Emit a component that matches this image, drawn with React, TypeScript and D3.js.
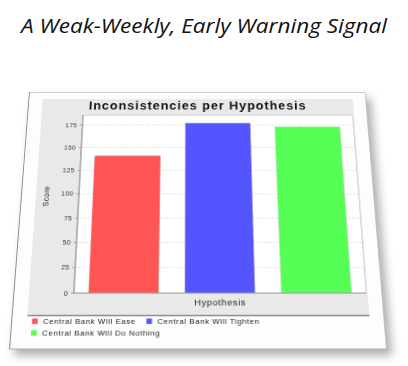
import React from 'react';
import * as d3 from 'd3';

const pageTitle = 'A Weak-Weekly, Early Warning Signal';
const chartTitle = 'Inconsistencies per Hypothesis';
const categories = ['Hypothesis'];
const seriesNames = ['Central Bank Will Ease', 'Central Bank Will Tighten', 'Central Bank Will Do Nothing'];
const seriesValues = [141, 177, 173];
const seriesColors = ['#ff5555', '#5555ff', '#55ff55'];
const yTicks = [0, 25, 50, 75, 100, 125, 150, 175];
const yLabel = 'Score';

// flat card size and its projected corners on the page (TL, TR, BL, BR)
const W = 378;
const H = 290;
const corners: number[][] = [[29, 92], [365.5, 92], [9, 349.5], [387, 349.5]];

function homography(src: number[][], dst: number[][]) {
  const A: number[][] = [];
  const b: number[] = [];
  for (let i = 0; i < 4; i++) {
    const [x, y] = src[i];
    const [X, Y] = dst[i];
    A.push([x, y, 1, 0, 0, 0, -x * X, -y * X]); b.push(X);
    A.push([0, 0, 0, x, y, 1, -x * Y, -y * Y]); b.push(Y);
  }
  const n = 8;
  for (let c = 0; c < n; c++) {
    let p = c;
    for (let r = c + 1; r < n; r++) if (Math.abs(A[r][c]) > Math.abs(A[p][c])) p = r;
    [A[c], A[p]] = [A[p], A[c]];
    [b[c], b[p]] = [b[p], b[c]];
    for (let r = 0; r < n; r++) {
      if (r === c) continue;
      const f = A[r][c] / A[c][c];
      for (let k = c; k < n; k++) A[r][k] -= f * A[c][k];
      b[r] -= f * b[c];
    }
  }
  return b.map((v, i) => v / A[i][i]);
}

const [ha, hb, hc, hd, he, hf, hg, hh] = homography(
  [[0, 0], [W, 0], [0, H], [W, H]],
  corners
);
const matrix = `matrix3d(${ha},${hd},0,${hg},${hb},${he},0,${hh},0,0,1,0,${hc},${hf},0,1)`;

// layout inside the flat card
const panel = { x: 16, y: 9, x2: 363, y2: 255.5 };
const plot = { x: 62, y: 29.2, x2: 361.5, y2: 232 };
const legendRows = [261.3, 273.2];
const legendItems = [
  { x: 21.2, row: 0 },
  { x: 136.9, row: 0 },
  { x: 21.0, row: 1 },
];

const font = "'Liberation Sans', Arial, sans-serif";

function Card() {
  const pw = plot.x2 - plot.x;
  const y = d3.scaleLinear()
    .domain([0, (d3.max(seriesValues) as number) * 1.05])
    .range([plot.y2, plot.y]);
  const x = d3.scaleBand<string>()
    .domain(seriesNames)
    .range([plot.x + 0.05 * pw, plot.x2 - 0.05 * pw])
    .paddingInner(0.2727);
  const catX = d3.scaleBand<string>().domain(categories).range([plot.x, plot.x2]);

  return (
    <svg
      width={W}
      height={H}
      style={{ position: 'absolute', left: 0, top: 0, display: 'block', overflow: 'visible', transformOrigin: '0 0', transform: matrix }}
    >
      <rect x={0.5} y={0.5} width={W - 1} height={H - 1} fill="#fdfdfd" stroke="#c4c4c4" strokeWidth={1} />
      <line x1={0.5} y1={0} x2={0.5} y2={H} stroke="#8c8c8c" strokeWidth={1} />
      <line x1={0} y1={H - 0.5} x2={W} y2={H - 0.5} stroke="#b0b0b0" strokeWidth={1} />
      {/* chart background */}
      <rect x={panel.x} y={panel.y} width={panel.x2 - panel.x} height={panel.y2 - panel.y} fill="#e9e9e9" />
      <line x1={panel.x} x2={panel.x2} y1={panel.y2} y2={panel.y2} stroke="#8a8a8a" strokeWidth={1.6} />
      <text x={(panel.x + panel.x2) / 2} y={21.8} textAnchor="middle" fontFamily={font} fontWeight="bold" fontSize={14} letterSpacing={1.1} fill="#111">
        {chartTitle}
      </text>
      {/* plot */}
      <rect x={plot.x} y={plot.y} width={pw} height={plot.y2 - plot.y} fill="#ffffff" stroke="#bdbdbd" strokeWidth={0.6} />
      {yTicks.map((t) => (
        <line key={'g' + t} x1={plot.x} x2={plot.x2} y1={y(t)} y2={y(t)} stroke="#c8c8c8" strokeWidth={0.8} strokeDasharray="1.5,2" />
      ))}
      {seriesNames.map((s, i) => (
        <rect key={s} x={x(s)} y={y(seriesValues[i])} width={x.bandwidth()} height={y(0) - y(seriesValues[i])} fill={seriesColors[i]} stroke="#c8c8c8" strokeWidth={0.4} />
      ))}
      {/* axes */}
      <line x1={plot.x} x2={plot.x} y1={plot.y} y2={plot.y2} stroke="#7a7a7a" strokeWidth={0.9} />
      <line x1={plot.x} x2={plot.x2} y1={plot.y2} y2={plot.y2} stroke="#9a9a9a" strokeWidth={0.8} />
      {yTicks.map((t) => (
        <g key={'t' + t}>
          <line x1={plot.x - 3} x2={plot.x} y1={y(t)} y2={y(t)} stroke="#888" strokeWidth={0.7} />
          <text x={56} y={y(t)} dy="0.35em" textAnchor="end" fontFamily={font} fontSize={7.2} letterSpacing={0.3} fill="#333">
            {t}
          </text>
        </g>
      ))}
      <text transform={`translate(30,${(plot.y + plot.y2) / 2 - 5}) rotate(-90)`} textAnchor="middle" fontFamily={font} fontSize={8.5} letterSpacing={0.3} fill="#222">
        {yLabel}
      </text>
      {categories.map((c) => (
        <text key={c} x={(catX(c) as number) + catX.bandwidth() / 2} y={245.5} textAnchor="middle" fontFamily={font} fontSize={9.5} letterSpacing={0.6} fill="#222">
          {c}
        </text>
      ))}
      {/* legend */}
      {seriesNames.map((s, i) => {
        const it = legendItems[i];
        const cy = legendRows[it.row];
        return (
          <g key={'l' + s}>
            <rect x={it.x} y={cy - 2.8} width={5.6} height={5.6} fill={seriesColors[i]} />
            <text x={it.x + 11.1} y={cy} dy="0.35em" fontFamily={font} fontSize={8} letterSpacing={0.55} fill="#222">
              {s}
            </text>
          </g>
        );
      })}
    </svg>
  );
}

export default function App() {
  return (
    <div style={{ position: 'absolute', left: 0, top: 0, width: 408, height: 366, background: '#ffffff', overflow: 'hidden' }}>
      <svg width={408} height={366} style={{ position: 'absolute', left: 0, top: 0 }}>
        <rect width={408} height={366} fill="#ffffff" />
        <text x={204} y={33.3} textAnchor="middle" fontFamily="'Open Sans', 'Noto Sans', sans-serif" fontStyle="italic" fontSize={20} textLength={366} lengthAdjust="spacingAndGlyphs" fill="#111">
          {pageTitle}
        </text>
      </svg>
      <div style={{ position: 'absolute', left: 0, top: 0, width: 408, height: 366, filter: 'drop-shadow(5px 6px 5px rgba(0,0,0,0.32))' }}>
        <Card />
      </div>
    </div>
  );
}
